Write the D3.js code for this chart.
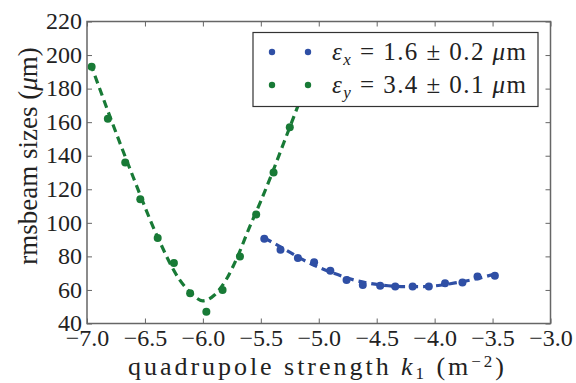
<!DOCTYPE html>
<html>
<head>
<meta charset="utf-8">
<script src="https://cdn.jsdelivr.net/npm/d3@7"></script>
<style>
  body { margin: 0; background: #fff; }
</style>
</head>
<body>
<div id="chart"></div>
<script>
// measured beam sizes (um) vs quadrupole strength k1
const kY = [-6.96, -6.82, -6.67, -6.54, -6.39, -6.25, -6.11, -5.97, -5.83, -5.68, -5.54, -5.39, -5.25];
const sizeY = [193, 162, 136, 114, 91, 76, 58, 47, 60, 80, 105, 130, 157];
const kX = [-5.47, -5.33, -5.18, -5.04, -4.90, -4.76, -4.62, -4.47, -4.34, -4.19, -4.05, -3.91, -3.76, -3.63, -3.48];
const sizeX = [90.5, 84, 79, 76.5, 71.5, 66, 63, 62.5, 62, 62, 62, 64, 64.5, 68, 68.5];

// fitted curves
const fitKY = [-6.97, -6.8, -6.6, -6.4, -6.2, -6.1, -6.0, -5.9, -5.8, -5.7, -5.6, -5.5, -5.4, -5.3, -5.2, -5.1];
const fitY = [195, 163, 127, 93, 66, 58, 53.5, 57, 66, 80, 97, 113, 130, 148, 166, 184];
const fitKX = [-5.47, -5.3, -5.15, -5.0, -4.85, -4.7, -4.55, -4.4, -4.25, -4.1, -3.95, -3.8, -3.65, -3.48];
const fitX = [91, 84.5, 78.5, 73.5, 69.5, 66, 63.8, 62.5, 62, 62, 62.8, 64.5, 66.5, 69.5];

const xTicks = [-7.0, -6.5, -6.0, -5.5, -5.0, -4.5, -4.0, -3.5, -3.0];
const yTicks = [40, 60, 80, 100, 120, 140, 160, 180, 200, 220];

const blue = "#2f4fa5";
const green = "#187a36";
const serif = "'Liberation Serif', 'DejaVu Serif', serif";

const width = 576, height = 383;
const margin = { top: 21.5, right: 25.5, bottom: 59.5, left: 87 };
const w = width - margin.left - margin.right;
const h = height - margin.top - margin.bottom;

const svg = d3.select("#chart").append("svg")
  .attr("width", width)
  .attr("height", height)
  .attr("font-family", serif);

const g = svg.append("g")
  .attr("transform", `translate(${margin.left},${margin.top})`);

const x = d3.scaleLinear().domain([-7, -3]).range([0, w]);
const y = d3.scaleLinear().domain([40, 220]).range([h, 0]);

g.append("clipPath").attr("id", "clip")
  .append("rect").attr("width", w).attr("height", h);

// axes with inward ticks on all sides
const fmt = d => (d < 0 ? "\u2212" : "") + Math.abs(d).toFixed(1);
const xAxis = g.append("g").attr("transform", `translate(0,${h})`)
  .call(d3.axisBottom(x).tickValues(xTicks).tickSize(-5).tickPadding(5).tickFormat(fmt));
const yAxis = g.append("g")
  .call(d3.axisLeft(y).tickValues(yTicks).tickSize(-5).tickPadding(5).tickFormat(d3.format("d")));
g.append("g").call(d3.axisTop(x).tickValues(xTicks).tickSize(-5).tickFormat(""));
g.append("g").attr("transform", `translate(${w},0)`)
  .call(d3.axisRight(y).tickValues(yTicks).tickSize(-5).tickFormat(""));

g.selectAll(".domain").remove();
g.selectAll(".tick line").attr("stroke", "#666").attr("stroke-width", 1);
g.selectAll("g").attr("font-family", serif);
xAxis.selectAll("text").attr("font-size", 24).attr("fill", "#222").attr("dy", "0.72em");
yAxis.selectAll("text").attr("font-size", 24).attr("fill", "#222").attr("dy", "0.3em");

// data
const plot = g.append("g").attr("clip-path", "url(#clip)");
const line = d3.line().x(d => x(d[0])).y(d => y(d[1])).curve(d3.curveMonotoneX);

plot.append("path")
  .datum(d3.zip(fitKY, fitY))
  .attr("d", line)
  .attr("fill", "none").attr("stroke", green)
  .attr("stroke-width", 3.2).attr("stroke-dasharray", "8,5");

plot.append("path")
  .datum(d3.zip(fitKX, fitX))
  .attr("d", line)
  .attr("fill", "none").attr("stroke", blue)
  .attr("stroke-width", 3.2).attr("stroke-dasharray", "8,5");

plot.selectAll(".py").data(d3.zip(kY, sizeY)).enter().append("circle")
  .attr("cx", d => x(d[0])).attr("cy", d => y(d[1])).attr("r", 4)
  .attr("fill", green);

plot.selectAll(".px").data(d3.zip(kX, sizeX)).enter().append("circle")
  .attr("cx", d => x(d[0])).attr("cy", d => y(d[1])).attr("r", 4)
  .attr("fill", blue);

// frame
g.append("rect").attr("width", w).attr("height", h)
  .attr("fill", "none").attr("stroke", "#666").attr("stroke-width", 1.5);

// legend
const leg = g.append("g").attr("transform", `translate(${253 - margin.left},${32.5 - margin.top})`);
leg.append("rect").attr("width", 285).attr("height", 74)
  .attr("fill", "#fff").attr("stroke", "#333").attr("stroke-width", 1.2);

const legItems = [
  { color: blue, sub: "x", val: "1.6 \u00b1 0.2 " },
  { color: green, sub: "y", val: "3.4 \u00b1 0.1 " }
];
legItems.forEach((it, i) => {
  const cy = 19.5 + i * 33;
  leg.append("circle").attr("cx", 19).attr("cy", cy).attr("r", 3.2).attr("fill", it.color);
  leg.append("circle").attr("cx", 55).attr("cy", cy).attr("r", 3.2).attr("fill", it.color);
  const t = leg.append("text").attr("x", 79).attr("y", cy + 8)
    .attr("font-size", 25).attr("fill", "#222").attr("font-family", serif)
    .attr("textLength", 194).attr("lengthAdjust", "spacing");
  t.append("tspan").attr("font-style", "italic").text("\u03b5");
  t.append("tspan").attr("font-style", "italic").attr("font-size", 17).attr("dy", 5).text(it.sub);
  t.append("tspan").attr("dy", -5).text(" = " + it.val);
  t.append("tspan").attr("font-style", "italic").text("\u03bc");
  t.append("tspan").text("m");
});

// axis titles
const xl = svg.append("text")
  .attr("x", 128).attr("y", 375)
  .attr("font-size", 26).attr("fill", "#222")
  .attr("textLength", 376).attr("lengthAdjust", "spacing");
xl.append("tspan").text("quadrupole strength ");
xl.append("tspan").attr("font-style", "italic").text("k");
xl.append("tspan").attr("font-size", 17).attr("dy", 4).text("1");
xl.append("tspan").attr("dy", -4).text(" (m");
xl.append("tspan").attr("font-size", 17).attr("dy", -8).text("\u22122");
xl.append("tspan").attr("dy", 8).text(")");

const yl = svg.append("text")
  .attr("transform", `translate(37,156) rotate(-90)`)
  .attr("text-anchor", "middle").attr("font-size", 27).attr("fill", "#222");
yl.append("tspan").text("rmsbeam sizes (");
yl.append("tspan").attr("font-style", "italic").text("\u03bc");
yl.append("tspan").text("m)");
</script>
</body>
</html>
